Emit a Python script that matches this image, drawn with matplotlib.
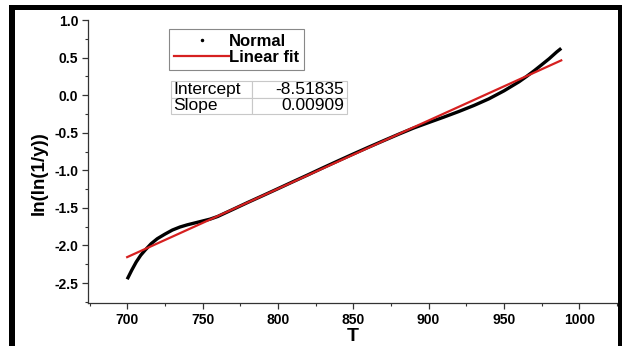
import matplotlib
matplotlib.use("Agg")
import matplotlib.pyplot as plt
import numpy as np
from matplotlib.lines import Line2D
from matplotlib.patches import Rectangle
from matplotlib.ticker import MultipleLocator, FormatStrFormatter

plt.rcParams['font.family'] = ['Liberation Sans', 'DejaVu Sans']
plt.rcParams['font.weight'] = 'bold'

# Data
T_normal = [700, 703, 706, 709, 712, 716, 720, 725, 730, 735, 740, 745, 750, 755,
            760, 770, 780, 790, 800, 810, 820, 830, 840, 850, 860, 870, 880, 890,
            900, 910, 920, 930, 940, 950, 960, 965, 970, 975, 980, 985, 988]
y_normal = [-2.45, -2.33, -2.22, -2.13, -2.06, -1.975, -1.91, -1.85, -1.795, -1.755,
            -1.725, -1.70, -1.675, -1.65, -1.615, -1.522, -1.428, -1.337, -1.245, -1.152,
            -1.060, -0.966, -0.874, -0.783, -0.694, -0.607, -0.521, -0.438, -0.365,
            -0.293, -0.218, -0.138, -0.049, 0.057, 0.178, 0.249, 0.324, 0.404,
            0.485, 0.575, 0.623]
intercept = -8.51835
slope = 0.00909
T_fit = [700, 988]
y_fit = [intercept + slope * t for t in T_fit]

table_rows = [["Intercept", "-8.51835"], ["Slope", "0.00909"]]
legend_labels = ["Normal", "Linear fit"]

W, H = 622, 346
fig = plt.figure(figsize=(W / 100, H / 100), dpi=100)
ax = fig.add_axes([88 / W, 1 - 303 / H, (617 - 88) / W, (303 - 20) / H])

ax.plot(T_normal, y_normal, color='black', lw=2.4, solid_capstyle='butt')
ax.plot(T_fit, y_fit, color='#d62020', lw=1.6)

ax.set_xlim(674, 1025)
ax.set_ylim(-2.766, 1.0)
ax.xaxis.set_major_locator(MultipleLocator(50))
ax.xaxis.set_minor_locator(MultipleLocator(25))
ax.yaxis.set_major_locator(MultipleLocator(0.5))
ax.yaxis.set_minor_locator(MultipleLocator(0.25))
ax.yaxis.set_major_formatter(FormatStrFormatter('%.1f'))

for s in ['top', 'right']:
    ax.spines[s].set_visible(False)
for s in ['left', 'bottom']:
    ax.spines[s].set_linewidth(0.9)
    ax.spines[s].set_color('#333333')

ax.tick_params(which='major', direction='out', length=4, width=0.9, color='#333333',
               labelsize=10, pad=3)
ax.tick_params(which='minor', direction='out', length=2.5, width=0.8, color='#333333')

ax.set_ylabel('ln(ln(1/y))', fontsize=13.5, fontweight='bold')
ax.yaxis.set_label_coords(-0.076, 0.46)
ax.set_xlabel('T', fontsize=14, fontweight='bold')
ax.xaxis.set_label_coords(0.5, -0.088)

handles = [Line2D([], [], color='black', marker='.', markersize=3, lw=0),
           Line2D([], [], color='#d62020', lw=1.6)]
leg = ax.legend(handles, legend_labels, loc='upper left',
                bbox_to_anchor=(169 / W, 1 - 29 / H), bbox_transform=fig.transFigure,
                borderaxespad=0, fancybox=False, edgecolor='#888888',
                prop={'weight': 'bold', 'size': 12}, handlelength=3.3,
                handletextpad=0.0, labelspacing=0.05, borderpad=0.3, framealpha=1)
leg.get_frame().set_linewidth(0.8)

tb = ax.table(cellText=table_rows, cellLoc='left', colWidths=[81, 94],
              bbox=[(171 - 88) / 529, (303 - 114) / 283, 176 / 529, 33 / 283])
tb.auto_set_font_size(False)
for (r, c), cell in tb.get_celld().items():
    cell.set_edgecolor('#c8c8c8')
    cell.set_linewidth(0.8)
    cell.get_text().set_fontsize(12.5)
    cell.get_text().set_fontweight('normal')
    if c == 1:
        cell.get_text().set_ha('right')
        cell._loc = 'right'
    cell.PAD = 0.03

# black outer frame
fig.add_artist(Rectangle((9 / W, 0), 6 / W, (H - 5) / H, transform=fig.transFigure,
                         color='black', lw=0))
fig.add_artist(Rectangle((9 / W, (H - 10) / H), (W - 9) / W, 5 / H,
                         transform=fig.transFigure, color='black', lw=0))
fig.add_artist(Rectangle((618 / W, 0), 4 / W, (H - 5) / H, transform=fig.transFigure,
                         color='black', lw=0))

fig.savefig('out.png', dpi=100)
